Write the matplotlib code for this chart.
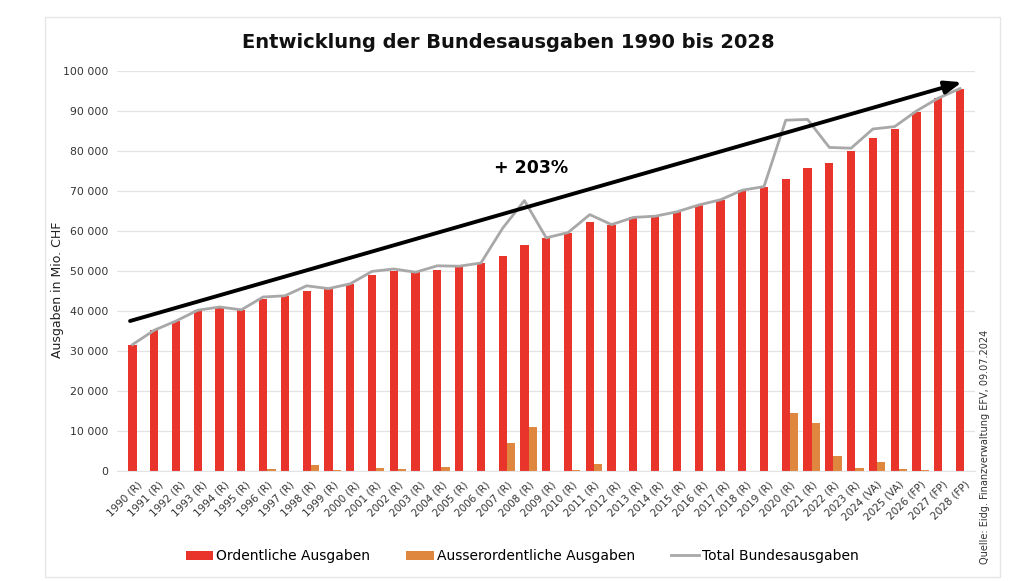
import matplotlib
matplotlib.use("Agg")
import matplotlib.pyplot as plt
from matplotlib.patches import Rectangle
import numpy as np

years = ["1990 (R)", "1991 (R)", "1992 (R)", "1993 (R)", "1994 (R)", "1995 (R)", "1996 (R)",
         "1997 (R)", "1998 (R)", "1999 (R)", "2000 (R)", "2001 (R)", "2002 (R)", "2003 (R)",
         "2004 (R)", "2005 (R)", "2006 (R)", "2007 (R)", "2008 (R)", "2009 (R)", "2010 (R)",
         "2011 (R)", "2012 (R)", "2013 (R)", "2014 (R)", "2015 (R)", "2016 (R)", "2017 (R)",
         "2018 (R)", "2019 (R)", "2020 (R)", "2021 (R)", "2022 (R)", "2023 (R)", "2024 (VA)",
         "2025 (VA)", "2026 (FP)", "2027 (FP)", "2028 (FP)"]

ordentlich = [31600, 35200, 37500, 40200, 41000, 40300, 43000, 43800, 44900, 45400,
              46800, 49100, 49900, 49700, 50300, 51200, 52000, 53800, 56500, 58300,
              59400, 62300, 61600, 63400, 63700, 64800, 66500, 67800, 70200, 71100,
              73100, 75800, 77100, 79900, 83200, 85600, 89700, 93200, 95600]

ausserordentlich = [0, 0, 0, 0, 0, 0, 500, 0, 1400, 200,
                    0, 800, 600, 0, 1000, 0, 0, 6900, 11100, 0,
                    200, 1800, 0, 0, 0, 0, 0, 0, 0, 0,
                    14600, 12100, 3800, 800, 2300, 500, 300, 0, 0]

total = [o + a for o, a in zip(ordentlich, ausserordentlich)]

trend_start = 37500
trend_end = 97200

RED = "#E8342A"
ORANGE = "#E0873F"
GREY = "#A8A8A8"

fig = plt.figure(figsize=(10.24, 5.81), dpi=100)
fig.patches.append(Rectangle((45/1024, 4/581), 955/1024, 560/581, transform=fig.transFigure,
                             fill=False, edgecolor="#E6E6E6", linewidth=1.0))

ax = fig.add_axes([117/1024, 1 - 471/581, (975-117)/1024, 400/581])
x = np.arange(len(years))
w = 0.38
b1 = ax.bar(x - w/2, ordentlich, width=w, color=RED, label="Ordentliche Ausgaben", zorder=2)
b2 = ax.bar(x + w/2, ausserordentlich, width=w, color=ORANGE, label="Ausserordentliche Ausgaben", zorder=2)
l1, = ax.plot(x - w/2, total, color=GREY, linewidth=2.0, label="Total Bundesausgaben", zorder=3)

ax.set_xlim(-0.9, len(years) - 0.5)
ax.set_ylim(0, 100000)
ax.set_yticks(np.arange(0, 100001, 10000))
ax.set_yticklabels([f"{v:,}".replace(",", " ") for v in range(0, 100001, 10000)],
                   fontsize=7.8, color="#333333")
ax.set_xticks(x)
ax.set_xticklabels(years, rotation=45, ha="right", rotation_mode="anchor", fontsize=7.5, color="#333333")
ax.tick_params(axis="both", length=0, pad=6)
ax.grid(axis="y", color="#E3E3E3", linewidth=0.9, zorder=0)
for s in ax.spines.values():
    s.set_visible(False)
ax.spines["bottom"].set_visible(True)
ax.spines["bottom"].set_color("#E3E3E3")

fig.text(58/1024, 1 - 290/581, "Ausgaben in Mio. CHF", rotation=90, fontsize=9,
         color="#222222", ha="center", va="center")

ax.annotate("", xy=(len(years) - 1.1, trend_end), xytext=(-0.3, trend_start),
            arrowprops=dict(arrowstyle="-|>,head_length=1.0,head_width=0.38", color="black",
                            linewidth=2.8, shrinkA=0, shrinkB=0), zorder=4)
ax.text(18.1, 75700, "+ 203%", fontsize=12.5, fontweight="bold", ha="center", va="center")

fig.text(508/1024, 1 - 42/581, "Entwicklung der Bundesausgaben 1990 bis 2028",
         fontsize=14, fontweight="bold", ha="center", va="center", color="#111111")

fig.text(985/1024, 1 - 447/581, "Quelle: Eidg. Finanzverwaltung EFV, 09.07.2024",
         rotation=90, fontsize=7, ha="center", va="center", color="#333333")

fig.legend(handles=[b1, b2, l1], loc="center", bbox_to_anchor=(522/1024, 1 - 556/581), ncol=3,
           frameon=False, fontsize=10, handlelength=2.0, handleheight=0.6, columnspacing=2.6,
           handletextpad=0.2)

fig.savefig("out.png", dpi=100)
